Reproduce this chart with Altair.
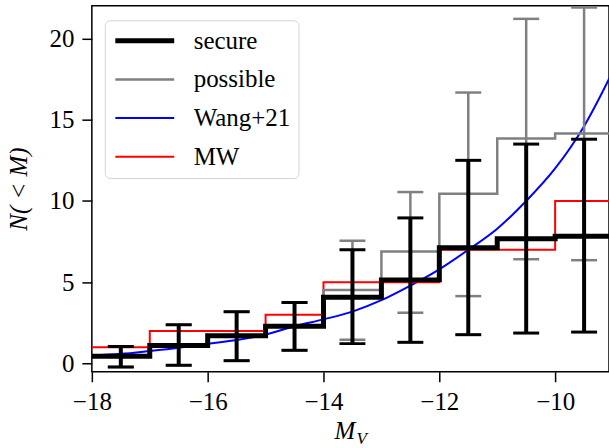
import altair as alt
import pandas as pd

# Series shown in the legend, with their line colours and widths
series_names = ["secure", "possible", "Wang+21", "MW"]
series_colors = ["black", "gray", "blue", "red"]
series_widths = [5, 2.5, 2, 2]

# Cumulative bins in M_V: left edge of each bin, last right edge, bin centres
bin_left = [-18, -17, -16, -15, -14, -13, -12, -11, -10]
bin_right_end = -9
bin_mid = [-17.5, -16.5, -15.5, -14.5, -13.5, -12.5, -11.5, -10.5, -9.5]

# Secure satellites: cumulative counts and uncertainty range
secure = [0.45, 1.12, 1.72, 2.30, 4.08, 5.15, 7.12, 7.68, 7.83]
secure_lo = [-0.20, -0.10, 0.18, 0.82, 1.23, 1.31, 1.78, 1.88, 1.94]
secure_hi = [1.06, 2.39, 3.19, 3.76, 7.00, 8.96, 12.50, 13.50, 13.80]

# Secure + possible satellites
possible = [0.45, 1.12, 1.72, 2.30, 4.52, 6.90, 10.45, 13.85, 14.15]
possible_lo = [-0.20, -0.10, 0.18, 0.82, 1.47, 3.13, 4.15, 6.42, 6.36]
possible_hi = [1.06, 2.39, 3.19, 3.76, 7.55, 10.55, 16.67, 21.20, 21.90]

# Milky Way cumulative luminosity function
mw = [1, 2, 2, 3, 5, 5, 7, 7, 10]

# Wang+21 model curve
wang_mv = [-18, -17.5, -17, -16.5, -16, -15.5, -15, -14.5, -14, -13.5,
           -13, -12.5, -12, -11.5, -11, -10.5, -10, -9.5, -9]
wang_n = [0.50, 0.60, 0.78, 0.98, 1.22, 1.45, 1.78, 2.30, 2.72, 3.20,
          3.90, 4.80, 5.80, 7.00, 8.30, 10.00, 12.00, 14.60, 18.00]

FONT = "Liberation Serif"


def step_frame(name, values):
    return pd.DataFrame({
        "mv": bin_left + [bin_right_end],
        "n": values + [values[-1]],
        "series": name,
    })


def bar_frame(lo, hi):
    return pd.DataFrame({"mv": bin_mid, "lo": lo, "hi": hi})


x_axis = alt.Axis(
    values=[-18, -16, -14, -12, -10], title="M", titleFont=FONT,
    titleFontStyle="italic", titleFontSize=25, titleFontWeight="normal",
    titleColor="black", titleX=253, titleY=67, titleBaseline="alphabetic",
    titleAlign="center", labelFlush=False, labelPadding=8,
    labelFont=FONT, labelFontSize=25, labelColor="black",
)
y_axis = alt.Axis(
    values=[0, 5, 10, 15, 20], title="N( < M)", titleFont=FONT,
    titleFontStyle="italic", titleFontSize=25, titleFontWeight="normal",
    titleColor="black", titleAngle=270, titleX=-65, titleY=183,
    titleBaseline="alphabetic", titleAlign="center", labelFlush=False,
    labelPadding=8, labelFont=FONT, labelFontSize=25, labelColor="black",
)
x_scale = alt.Scale(domain=[-18, -9.07], nice=False, zero=False)
y_scale = alt.Scale(domain=[-0.5, 22], nice=False, zero=False)

legend = alt.Legend(
    title=None, orient="none", legendX=13, legendY=14.5,
    symbolType="stroke", symbolSize=3481, symbolOpacity=1,
    clipHeight=25, rowPadding=12.7, padding=8,
    labelFont=FONT, labelFontSize=25, labelColor="black", labelOffset=17,
    fillColor="white", strokeColor="#d4d4d4", cornerRadius=5,
)
color_enc = alt.Color(
    "series:N",
    scale=alt.Scale(domain=series_names, range=series_colors),
    legend=legend,
)
width_enc = alt.StrokeWidth(
    "series:N",
    scale=alt.Scale(type="ordinal", domain=series_names, range=series_widths),
    legend=legend,
)
x_enc = alt.X("mv:Q", scale=x_scale, axis=x_axis)


def step_layer(name, values):
    return alt.Chart(step_frame(name, values)).mark_line(
        interpolate="step-after", clip=True, strokeJoin="miter", strokeCap="butt"
    ).encode(
        x=x_enc,
        y=alt.Y("n:Q", scale=y_scale, axis=y_axis),
        color=color_enc,
        strokeWidth=width_enc,
    )


def error_layers(lo, hi, color, bar_width, cap_thickness):
    frame = bar_frame(lo, hi)
    bars = alt.Chart(frame).mark_rule(
        color=color, strokeWidth=bar_width, strokeCap="butt"
    ).encode(
        x=x_enc,
        y=alt.Y("lo:Q", scale=y_scale, axis=y_axis),
        y2="hi:Q",
    )
    caps = alt.Chart(frame).transform_fold(
        ["lo", "hi"], as_=["end", "value"]
    ).mark_tick(
        orient="horizontal", size=26, thickness=cap_thickness,
        color=color, opacity=1,
    ).encode(
        x=x_enc,
        y=alt.Y("value:Q", scale=y_scale, axis=y_axis),
    )
    return [bars, caps]


wang_frame = pd.DataFrame({"mv": wang_mv, "n": wang_n, "series": "Wang+21"})
wang_layer = alt.Chart(wang_frame).mark_line(
    interpolate="monotone", clip=True
).encode(
    x=x_enc,
    y=alt.Y("n:Q", scale=y_scale, axis=y_axis),
    color=color_enc,
    strokeWidth=width_enc,
)

subscript = alt.Chart(pd.DataFrame({"sub": ["V"]})).mark_text(
    font=FONT, fontStyle="italic", fontSize=17, align="left",
    baseline="alphabetic", color="black",
).encode(text="sub:N", x=alt.value(265), y=alt.value(439))

layers = [
    wang_layer,
    step_layer("MW", mw),
    step_layer("possible", possible),
    *error_layers(possible_lo, possible_hi, "gray", 2.5, 2.5),
    step_layer("secure", secure),
    *error_layers(secure_lo, secure_hi, "black", 4, 3),
    subscript,
]

chart = alt.layer(*layers).properties(
    width=518,
    height=366.5,
    padding={"left": 92, "top": 5.5, "right": 0, "bottom": 76},
    autosize=alt.AutoSizeParams(type="none"),
).configure_view(
    stroke="black", strokeWidth=1.5
).configure_axis(
    grid=False, domain=False, tickSize=10, tickWidth=1.5, tickColor="black",
    labelFont=FONT, labelFontSize=25, labelColor="black", labelOverlap=False,
)

chart.save("out.html", embed_options={"renderer": "svg", "actions": False})
